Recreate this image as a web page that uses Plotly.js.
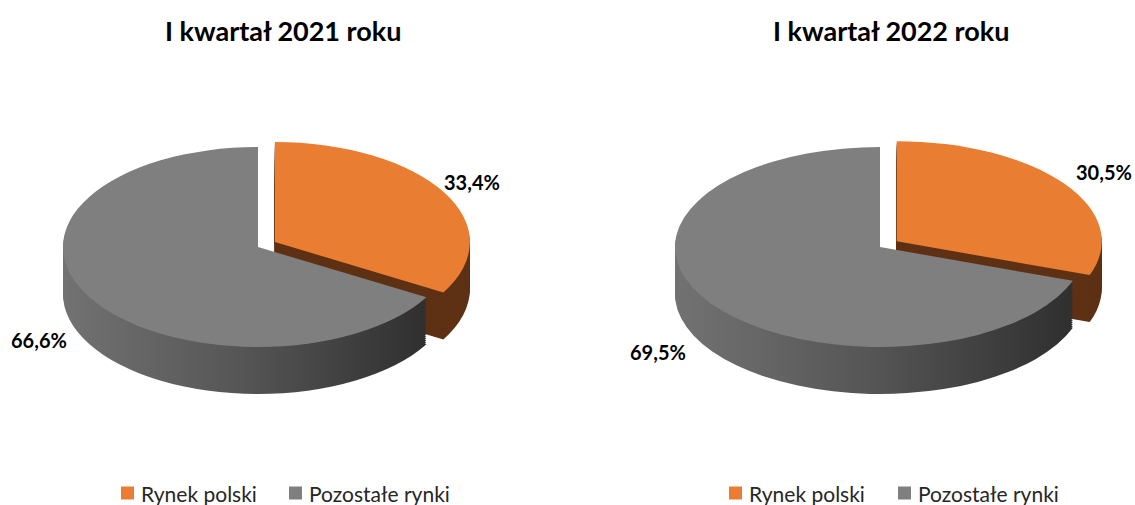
<!DOCTYPE html>
<html><head><meta charset="utf-8">
<script src="https://cdn.plot.ly/plotly-3.0.1.min.js"></script>
<style>html,body{margin:0;padding:0;background:#fff}#chart{width:1135px;height:505px}</style>
</head><body><div id="chart"></div>
<script>
// ---- data ----
const categories = ['Rynek polski', 'Pozostałe rynki'];
const values2021 = [33.4, 66.6];
const values2022 = [30.5, 69.5];
const chartTitles = ['I kwartał 2021 roku', 'I kwartał 2022 roku'];

// ---- style ----
const topColors = ['#E97D31', '#7F7F7F'];
const sideColors = ['#5E3114', '#555555'];
const W = 1135, H = 505;
const DEPTH = 47, STEPS = 24, PULL = 0.1;

const charts = [
  {values: values2021, title: chartTitles[0], cx: 258, cy: 247, r: 195, ry: 100,
   titlePos: [283, 30], legendSq: [121, 289], labelPos: [[472, 182], [39, 340]]},
  {values: values2022, title: chartTitles[1], cx: 880, cy: 247, r: 205, ry: 100,
   titlePos: [891, 30], legendSq: [729, 898], labelPos: [[1104, 172], [658, 352]]}
];
const LEGEND_Y = 493, SQ = 13, SQ_GAP = 6;

const fmt = v => v.toFixed(1).replace('.', ',') + '%';

const data = [];
charts.forEach((c, ci) => {
  const box = 2 * c.r * (1 + PULL);
  const hx = (box / W) / 2 + 0.01, hy = box / H;
  const domain = {x: [c.cx / W - hx, c.cx / W + hx], y: [0.04, 0.04 + hy]};
  for (let j = STEPS; j >= 0; j--) {
    const top = j === 0;
    data.push({
      type: 'pie', labels: categories, values: c.values, sort: false,
      direction: 'clockwise', rotation: 0, pull: [PULL, 0],
      textinfo: 'none', hoverinfo: 'skip', showlegend: false,
      marker: {colors: top ? topColors : sideColors, line: {width: 0}},
      domain: domain,
      meta: {chart: ci, dy: DEPTH * j / STEPS, side: !top}
    });
  }
});

const annotations = [];
const shapes = [];
charts.forEach(c => {
  annotations.push({xref: 'paper', yref: 'paper', x: c.titlePos[0] / W, y: 1 - c.titlePos[1] / H,
    xanchor: 'center', yanchor: 'middle', showarrow: false, text: c.title,
    font: {family: 'Lato, sans-serif', size: 27, weight: 700, color: '#000'}});
  c.values.forEach((v, i) => {
    annotations.push({xref: 'paper', yref: 'paper', x: c.labelPos[i][0] / W, y: 1 - c.labelPos[i][1] / H,
      xanchor: 'center', yanchor: 'middle', showarrow: false, text: fmt(v),
      font: {family: 'Lato, sans-serif', size: 20, weight: 700, color: '#000'}});
  });
  categories.forEach((cat, i) => {
    const sx = c.legendSq[i];
    shapes.push({type: 'rect', xref: 'paper', yref: 'paper',
      x0: sx / W, x1: (sx + SQ) / W, y0: 1 - (LEGEND_Y + SQ / 2) / H, y1: 1 - (LEGEND_Y - SQ / 2) / H,
      fillcolor: topColors[i], line: {width: 0}});
    annotations.push({xref: 'paper', yref: 'paper', x: (sx + SQ + SQ_GAP) / W, y: 1 - LEGEND_Y / H,
      xanchor: 'left', yanchor: 'middle', showarrow: false, text: cat, borderpad: 0,
      font: {family: 'Lato, sans-serif', size: 21, color: '#262626'}});
  });
});

const layout = {
  width: W, height: H, margin: {l: 0, r: 0, t: 0, b: 0},
  paper_bgcolor: '#fff', plot_bgcolor: '#fff', showlegend: false,
  annotations: annotations, shapes: shapes
};

const gd = document.getElementById('chart');
Plotly.newPlot(gd, data, layout, {staticPlot: true}).then(() => {
  const svg = gd.querySelector('.main-svg');
  const NS = 'http://www.w3.org/2000/svg';
  const defs = document.createElementNS(NS, 'defs');
  defs.innerHTML = '<linearGradient id="grayWall" x1="0" y1="0" x2="1" y2="0">' +
    '<stop offset="0" stop-color="#727272"/><stop offset="0.5" stop-color="#555555"/>' +
    '<stop offset="1" stop-color="#2f2f2f"/></linearGradient>';
  svg.insertBefore(defs, svg.firstChild);
  gd.querySelectorAll('.pielayer > g.trace').forEach(g => {
    const cd0 = g.__data__[0];
    const m = gd.data[cd0.trace.index].meta;
    const c = charts[m.chart];
    const ky = c.ry / cd0.r;
    g.setAttribute('transform', 'translate(0,' + (c.cy + m.dy) + ') scale(1,' + ky + ') translate(0,' + (-cd0.cy) + ')');
    if (m.side) {
      g.querySelectorAll('g.slice').forEach(s => {
        if (s.__data__ && s.__data__.i === 1) {
          const p = s.querySelector('path.surface');
          if (p) p.style.fill = 'url(#grayWall)';
        }
      });
    }
  });
});
</script>
</body></html>
